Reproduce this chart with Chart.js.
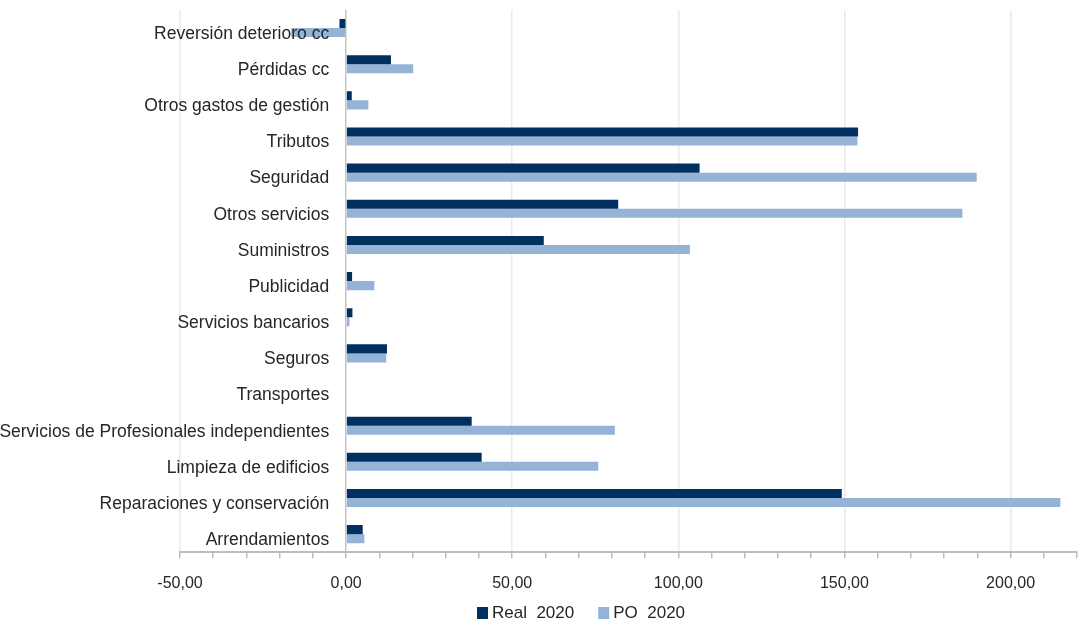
<!DOCTYPE html>
<html>
<head>
<meta charset="utf-8">
<script src="https://cdn.jsdelivr.net/npm/chart.js@4.4.1/dist/chart.umd.min.js"></script>
<style>
  html, body { margin: 0; padding: 0; background: #fff; }
  #wrap { width: 1080px; height: 621px; }
</style>
</head>
<body>
<div id="wrap"><canvas id="chart"></canvas></div>
<script>
const categories = [
  'Reversión deterioro cc',
  'Pérdidas cc',
  'Otros gastos de gestión',
  'Tributos',
  'Seguridad',
  'Otros servicios',
  'Suministros',
  'Publicidad',
  'Servicios bancarios',
  'Seguros',
  'Transportes',
  'Servicios de Profesionales independientes',
  'Limpieza de edificios',
  'Reparaciones y conservación',
  'Arrendamientos',
];
const real2020 = [-2.0, 13.5, 1.7, 154.1, 106.4, 81.9, 59.5, 1.8, 1.9, 12.3, 0, 37.8, 40.8, 149.2, 5.0];
const po2020 = [-16.5, 20.2, 6.7, 153.9, 189.8, 185.5, 103.5, 8.5, 1.0, 12.1, 0, 80.9, 75.9, 215.0, 5.5];
const seriesNames = ['Real  2020', 'PO  2020'];
const seriesColors = ['#00305f', '#95b3d7'];
const xMin = -50;
const xMax = 220;

const textColor = '#262626';
const baseFamily = 'Liberation Sans, Arial, sans-serif';

// the category labels in the original are tall and narrow; use the narrow face if it is there
function pickLabelFont() {
  const c = document.createElement('canvas').getContext('2d');
  const probe = 'Servicios de Profesionales independientes';
  c.font = '20px "Liberation Sans Narrow", monospace';
  const narrow = c.measureText(probe).width;
  c.font = '20px monospace';
  const mono = c.measureText(probe).width;
  if (Math.abs(narrow - mono) > 1) {
    return { family: '"Liberation Sans Narrow", ' + baseFamily, size: 21, lineHeight: 0.95 };
  }
  return { family: baseFamily, size: 17.5, lineHeight: 1.1 };
}
const labelFont = pickLabelFont();

// legend drawn by hand so it can sit where the original has it
const bottomLegend = {
  id: 'bottomLegend',
  afterDraw(chart) {
    const ctx = chart.ctx;
    ctx.save();
    ctx.font = '17px ' + baseFamily;
    ctx.textBaseline = 'middle';
    ctx.textAlign = 'left';
    let x = 477;
    const y = 613;
    chart.data.datasets.forEach((ds) => {
      ctx.fillStyle = ds.backgroundColor;
      ctx.fillRect(x, y - 6, 11, 12);
      ctx.fillStyle = textColor;
      ctx.fillText(ds.label, x + 15, y);
      x += 15 + ctx.measureText(ds.label).width + 24;
    });
    ctx.restore();
  },
};

new Chart(document.getElementById('chart'), {
  type: 'bar',
  data: {
    labels: categories,
    datasets: [
      { label: seriesNames[0], data: real2020, backgroundColor: seriesColors[0] },
      { label: seriesNames[1], data: po2020, backgroundColor: seriesColors[1] },
    ],
  },
  options: {
    indexAxis: 'y',
    responsive: true,
    maintainAspectRatio: false,
    animation: false,
    categoryPercentage: 0.5,
    barPercentage: 1.0,
    layout: { padding: { left: 180, right: 3, top: 10, bottom: 12 } },
    scales: {
      x: {
        min: xMin,
        max: xMax,
        ticks: {
          stepSize: 10,
          autoSkip: false,
          maxRotation: 0,
          minRotation: 0,
          // small padding keeps the right edge free; tall line height pushes labels down
          padding: 3,
          color: textColor,
          font: { family: baseFamily, size: 16, lineHeight: 2.8 },
          callback: (v) => (v % 50 === 0 ? v.toFixed(2).replace('.', ',') : ''),
        },
        grid: {
          color: (ctx) => {
            const v = ctx.tick ? ctx.tick.value : null;
            if (v === 0) return '#c4c4c4';
            return v !== null && v % 50 === 0 ? '#eaeaea' : 'rgba(0,0,0,0)';
          },
          tickColor: '#bdbdbd',
          tickLength: 6,
          lineWidth: 1.5,
        },
        border: { color: '#bdbdbd', width: 2 },
      },
      y: {
        // labels sit just left of the zero line, inside the plot, on top of the bars
        position: { x: -5.1 },
        ticks: {
          z: 1,
          autoSkip: false,
          padding: 0,
          labelOffset: 6,
          color: textColor,
          font: labelFont,
        },
        grid: { display: false, drawTicks: false },
        border: { display: false },
      },
    },
    plugins: {
      legend: { display: false },
      tooltip: { enabled: false },
    },
  },
  plugins: [bottomLegend],
});
</script>
</body>
</html>
